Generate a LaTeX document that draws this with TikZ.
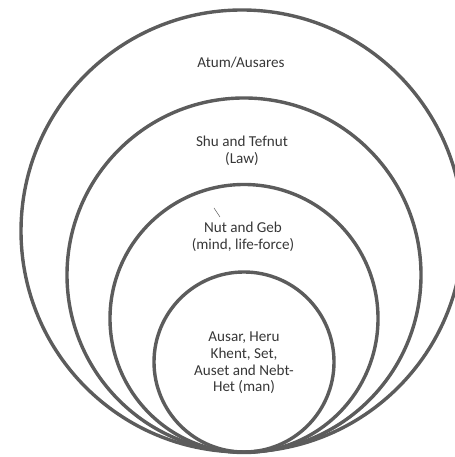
\documentclass[tikz,border=0pt]{standalone}
\usepackage{fontspec}
\setmainfont{Carlito}
\usepackage{tikz}
\usetikzlibrary{calc}
\definecolor{ringgray}{RGB}{92,92,92}
\definecolor{textgray}{RGB}{55,55,55}

\begin{document}
\begin{tikzpicture}[x=1bp,y=1bp,
        ring/.style={draw=ringgray,line width=3.4bp},
        lbl/.style={align=center,text=textgray,font=\fontsize{15.2}{16.8}\selectfont,inner sep=0pt}]
            \useasboundingbox (0,0) rectangle (455,457);
            \clip (0,0) rectangle (455,457);
            \draw [ring] (242,226) circle (221);
            \foreach \cy/\r in {182/177,138.5/134,95/90}
                \draw [ring] (244,\cy) circle (\r);
            \node [lbl] (atum) at (241,394) {Atum/Ausares};
            \node [lbl] (shu) at (242,306.5) {Shu and Tefnut\\(Law)};
            \node [lbl] (nut) at (243,220.5) {Nut and Geb\\(mind, life-force)};
            \node [lbl] (ausar) at (244,94) {Ausar, Heru\\Khent, Set,\\Auset and Nebt-\\Het (man)};
            \draw [ringgray,line width=0.5bp] (214,249)--(220,240);
        \end{tikzpicture}
\end{document}
